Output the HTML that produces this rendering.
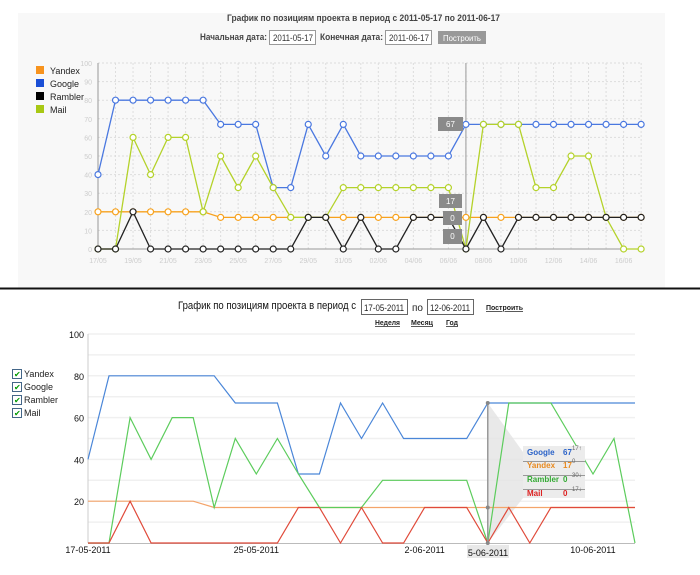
<!DOCTYPE html>
<html><head><meta charset="utf-8"><style>
body{margin:0;width:700px;height:575px;background:#fff;overflow:hidden;font-family:"Liberation Sans","DejaVu Sans",sans-serif}
svg{position:absolute;left:0;top:0}
</style></head><body>
<svg id="s" width="700" height="575" xmlns="http://www.w3.org/2000/svg" font-family="Liberation Sans, DejaVu Sans, sans-serif">
<rect x="18" y="13" width="647" height="275" fill="#f8f8f8"/>
<line x1="0" y1="288.5" x2="700" y2="288.5" stroke="#111" stroke-width="2"/>
<text x="227" y="21" font-size="9.5" font-weight="bold" fill="#444" textLength="273" lengthAdjust="spacingAndGlyphs">График по позициям проекта  в период с 2011-05-17 по 2011-06-17</text>
<text x="200" y="40" font-size="9.5" font-weight="bold" fill="#444" textLength="67" lengthAdjust="spacingAndGlyphs">Начальная дата:</text>
<rect x="269.5" y="30.5" width="46" height="14" fill="#fff" stroke="#999"/>
<text x="273" y="41" font-size="9" fill="#333" textLength="40" lengthAdjust="spacingAndGlyphs">2011-05-17</text>
<text x="320" y="40" font-size="9.5" font-weight="bold" fill="#444" textLength="63" lengthAdjust="spacingAndGlyphs">Конечная дата:</text>
<rect x="385.5" y="30.5" width="46" height="14" fill="#fff" stroke="#999"/>
<text x="389" y="41" font-size="9" fill="#333" textLength="40" lengthAdjust="spacingAndGlyphs">2011-06-17</text>
<rect x="438" y="31" width="48" height="13" fill="#999"/>
<text x="462" y="41" font-size="8.5" fill="#fff" text-anchor="middle" textLength="38" lengthAdjust="spacingAndGlyphs">Построить</text>
<g font-size="9" fill="#222">
<rect x="36" y="66" width="8" height="8" fill="#f7931e"/><text x="50" y="74">Yandex</text>
<rect x="36" y="79" width="8" height="8" fill="#1a4fd6"/><text x="50" y="87">Google</text>
<rect x="36" y="92" width="8" height="8" fill="#000"/><text x="50" y="100">Rambler</text>
<rect x="36" y="105" width="8" height="8" fill="#a8c814"/><text x="50" y="113">Mail</text>
</g>
<g id="top"></g>
<text x="178" y="309" font-size="11" fill="#111" textLength="178" lengthAdjust="spacingAndGlyphs">График по позициям проекта в период с</text>
<rect x="361.5" y="299.5" width="46" height="15" fill="#fff" stroke="#666"/>
<text x="364" y="311" font-size="9" fill="#222" textLength="40" lengthAdjust="spacingAndGlyphs">17-05-2011</text>
<text x="412" y="311" font-size="10" fill="#222">по</text>
<rect x="427.5" y="299.5" width="46" height="15" fill="#fff" stroke="#666"/>
<text x="430" y="311" font-size="9" fill="#222" textLength="40" lengthAdjust="spacingAndGlyphs">12-06-2011</text>
<text x="486" y="310" font-size="7.5" font-weight="bold" fill="#222" text-decoration="underline" textLength="37" lengthAdjust="spacingAndGlyphs">Построить</text>
<g font-size="7.5" font-weight="bold" fill="#222" text-decoration="underline">
<text x="375" y="325" textLength="25" lengthAdjust="spacingAndGlyphs">Неделя</text><text x="411" y="325" textLength="22" lengthAdjust="spacingAndGlyphs">Месяц</text><text x="446" y="325" textLength="12" lengthAdjust="spacingAndGlyphs">Год</text></g>
<g font-size="9" fill="#222">
<rect x="12.5" y="369.5" width="9" height="9" fill="#fff" stroke="#468"/><text x="14" y="377" font-size="8" fill="#090">✔</text><text x="24" y="377">Yandex</text>
<rect x="12.5" y="382.5" width="9" height="9" fill="#fff" stroke="#468"/><text x="14" y="390" font-size="8" fill="#090">✔</text><text x="24" y="390">Google</text>
<rect x="12.5" y="395.5" width="9" height="9" fill="#fff" stroke="#468"/><text x="14" y="403" font-size="8" fill="#090">✔</text><text x="24" y="403">Rambler</text>
<rect x="12.5" y="408.5" width="9" height="9" fill="#fff" stroke="#468"/><text x="14" y="416" font-size="8" fill="#090">✔</text><text x="24" y="416">Mail</text>
</g>
<g id="bot"></g>
</svg>
<script>
var NS="http://www.w3.org/2000/svg";
function el(p,t,a,txt){var e=document.createElementNS(NS,t);for(var k in a)e.setAttribute(k,a[k]);if(txt!=null)e.textContent=txt;p.appendChild(e);return e;}
var g=document.getElementById("top");
var x0=98,dx=17.52,y0=249,yh=186;
function X(i){return x0+i*dx} function Y(v){return y0-v*yh/100}
for(var i=0;i<=10;i++){var y=Y(i*10);el(g,"line",{x1:x0,y1:y,x2:641,y2:y,stroke:"#ddd","stroke-dasharray":"2,2"});el(g,"text",{x:x0-6,y:y+3,"font-size":7,fill:"#ccc","text-anchor":"end"},String(i*10));}
for(var i=0;i<32;i++){el(g,"line",{x1:X(i),y1:63,x2:X(i),y2:249,stroke:"#ddd","stroke-dasharray":"2,2"});}
el(g,"line",{x1:x0,y1:63,x2:x0,y2:249,stroke:"#999"});el(g,"line",{x1:x0,y1:249,x2:641,y2:249,stroke:"#999"});
var labs=["17/05","19/05","21/05","23/05","25/05","27/05","29/05","31/05","02/06","04/06","06/06","08/06","10/06","12/06","14/06","16/06"];
for(var i=0;i<16;i++)el(g,"text",{x:X(i*2),y:263,"font-size":7,fill:"#ccc","text-anchor":"middle"},labs[i]);
el(g,"line",{x1:X(21),y1:63,x2:X(21),y2:249,stroke:"#999"});
var T={
y:{c:"#f7a21e",d:[20,20,20,20,20,20,20,17,17,17,17,17,17,17,17,17,17,17,17,17,17,17,17,17,17,17,17,17,17,17,17,17]},
g:{c:"#4a78e0",d:[40,80,80,80,80,80,80,67,67,67,33,33,67,50,67,50,50,50,50,50,50,67,67,67,67,67,67,67,67,67,67,67]},
m:{c:"#b4d22a",d:[0,0,60,40,60,60,20,50,33,50,33,17,17,17,33,33,33,33,33,33,33,0,67,67,67,33,33,50,50,17,0,0]},
r:{c:"#222",d:[0,0,20,0,0,0,0,0,0,0,0,0,17,17,0,17,0,0,17,17,17,0,17,0,17,17,17,17,17,17,17,17]}};
["y","g","m","r"].forEach(function(k){var s=T[k],p=s.d.map(function(v,i){return X(i).toFixed(1)+","+Y(v).toFixed(1)}).join(" ");
el(g,"polyline",{points:p,fill:"none",stroke:s.c,"stroke-width":1.3});
s.d.forEach(function(v,i){el(g,"circle",{cx:X(i),cy:Y(v),r:3,fill:"#fff",stroke:s.c,"stroke-width":1.2});});});
[[438,117,25,"67",131],[439,194,23,"17",208],[443,211,19,"0",225],[443,229,19,"0",244]].forEach(function(b){
el(g,"rect",{x:b[0],y:b[1],width:b[2],height:b[4]-b[1],fill:"#8a8a8a"});
el(g,"text",{x:b[0]+b[2]/2,y:b[1]+10,"font-size":8,fill:"#fff","text-anchor":"middle"},b[3]);});
var b=document.getElementById("bot");
var bx=88,bdx=21.04,by=543,bh=209;
function BX(i){return bx+i*bdx} function BY(v){return by-v*bh/100}
for(var i=1;i<=10;i++){var y=BY(i*10);el(b,"line",{x1:bx,y1:y,x2:635,y2:y,stroke:"#f0f0f0","stroke-width":1.5});}
[100,80,60,40,20].forEach(function(v){el(b,"text",{x:84,y:BY(v)+4,"font-size":9,fill:"#111","text-anchor":"end"},String(v));});
el(b,"line",{x1:bx,y1:334,x2:bx,y2:543,stroke:"#ccc"});el(b,"line",{x1:bx,y1:543.5,x2:635,y2:543.5,stroke:"#bbb"});
el(b,"polygon",{points:BX(19)+","+BY(67)+" 523,452 523,498 "+BX(19)+","+BY(0),fill:"#e4e4e4",opacity:0.8});
var B={
y:{c:"#f4a46a",d:[20,20,20,20,20,20,17,17,17,17,17,17,17,17,17,17,17,17,17,17,17,17,17,17,17,17,17]},
g:{c:"#4a86d8",d:[40,80,80,80,80,80,80,67,67,67,33,33,67,50,67,50,50,50,50,67,67,67,67,67,67,67,67]},
r:{c:"#5ccc5c",d:[0,0,60,40,60,60,17,50,33,50,33,17,17,17,30,30,30,30,30,0,67,67,67,50,33,50,0]},
m:{c:"#e04a3a",d:[0,0,20,0,0,0,0,0,0,0,17,17,0,17,0,0,17,17,17,0,17,0,17,17,17,17,17]}};
["y","g","r","m"].forEach(function(k){var s=B[k],p=s.d.map(function(v,i){return BX(i).toFixed(1)+","+BY(v).toFixed(1)}).join(" ");
el(b,"polyline",{points:p,fill:"none",stroke:s.c,"stroke-width":1.2});});
el(b,"line",{x1:BX(19),y1:BY(67),x2:BX(19),y2:543,stroke:"#999","stroke-width":1.5});
[67,17,0].forEach(function(v){el(b,"circle",{cx:BX(19),cy:BY(v),r:2,fill:"#888"});});
[["17-05-2011",0],["25-05-2011",8],["2-06-2011",16],["10-06-2011",24]].forEach(function(l){el(b,"text",{x:BX(l[1]),y:553,"font-size":9,fill:"#111","text-anchor":"middle"},l[0]);});
el(b,"rect",{x:467,y:545,width:42,height:13,fill:"#e8e8e8"});
el(b,"text",{x:488,y:556,"font-size":9,fill:"#111","text-anchor":"middle"},"5-06-2011");
el(b,"rect",{x:523,y:446,width:62,height:52,fill:"#ececec"});
[[459,"Google","#2a62c8","67","17","↑","#2a2"],[472,"Yandex","#e88a20","17","0","",""],[486,"Rambler","#3a3","0","30","↓","#d22"],[500,"Mail","#d22","0","17","↓","#d22"]].forEach(function(r,i){
if(i>0)el(b,"line",{x1:523,y1:r[0]-10.5,x2:585,y2:r[0]-10.5,stroke:"#999"});
el(b,"text",{x:527,y:r[0]-4,"font-size":8,"font-weight":"bold",fill:r[2]},r[1]);
el(b,"text",{x:563,y:r[0]-4,"font-size":8,"font-weight":"bold",fill:r[2]},r[3]);
el(b,"text",{x:572,y:r[0]-9,"font-size":6,fill:"#666"},r[4]+r[5]);});
</script>
</body></html>
